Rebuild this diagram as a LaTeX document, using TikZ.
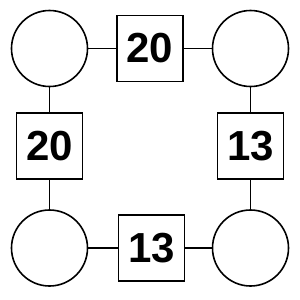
\documentclass[tikz,border=0pt]{standalone}
\usepackage{fontspec}
\setmainfont{Liberation Sans}
\tikzset{
  spot/.style={draw, circle, line width=1.6pt, minimum size=76pt, inner sep=0pt},
  weight/.style={draw, rectangle, line width=1.6pt, minimum size=66pt, inner sep=0pt, font=\fontsize{42}{42}\selectfont\bfseries},
}
\begin{document}
\begin{tikzpicture}[x=1pt, y=-1pt]
			\useasboundingbox (0,0) rectangle (300,300);
			\node[spot] (c1) at (49.5,48.5) {};
			\node[spot] (c2) at (250.5,48.5) {};
			\node[spot] (c3) at (49.5,248) {};
			\node[spot] (c4) at (250.5,248) {};
			\node[weight] (w1) at (150,48.5) {20};
			\node[weight] (w2) at (49.5,146) {20};
			\node[weight] (w3) at (250.5,146) {13};
			\node[weight] (w4) at (151.5,248) {13};
			\draw [-, line width=1.6pt] (c1) to (w1);
			\draw [-, line width=1.6pt] (w1) to (c2);
			\draw [-, line width=1.6pt] (c1) to (w2);
			\draw [-, line width=1.6pt] (w2) to (c3);
			\draw [-, line width=1.6pt] (c2) to (w3);
			\draw [-, line width=1.6pt] (w3) to (c4);
			\draw [-, line width=1.6pt] (c3) to (w4);
			\draw [-, line width=1.6pt] (w4) to (c4);
		\end{tikzpicture}
\end{document}
